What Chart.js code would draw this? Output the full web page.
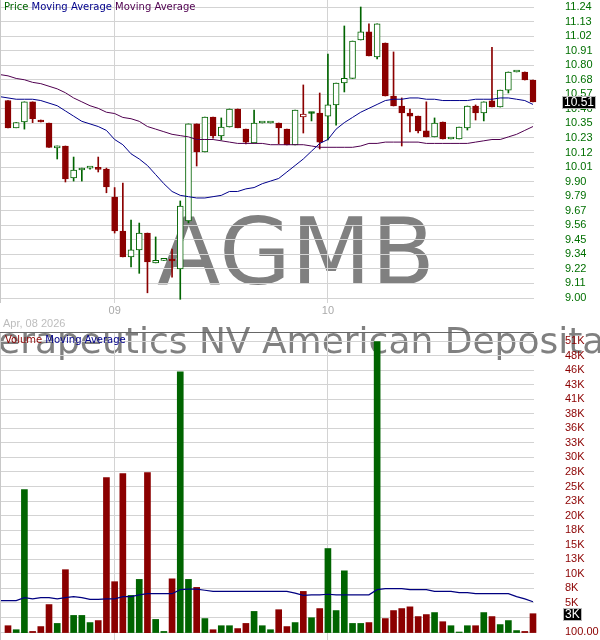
<!DOCTYPE html>
<html><head><meta charset="utf-8">
<script src="https://cdn.jsdelivr.net/npm/chart.js@4"></script>
<style>
html,body{margin:0;padding:0;background:#fff;width:600px;height:640px;overflow:hidden;position:relative}
canvas{position:absolute;left:0}
#pc{top:0}
#vc{top:300px}
</style></head><body>
<canvas id="pc" width="600" height="330"></canvas>
<canvas id="vc" width="600" height="340"></canvas>
<script>
// ---------------- data ----------------
const symbol = "AGMB";
const companyName = "Agomab Therapeutics NV American Depositary Shares";
const dateLabel = "Apr, 08 2026";
const monthLabels = ["09", "10"];
const monthStartIndex = [13, 39];

const openP  = [10.52,10.31,10.355,10.51,10.37,10.347,10.155,10.17,9.924,9.985,10.00,9.995,9.993,9.777,9.516,9.316,9.37,9.50,9.27,9.29,9.29,9.223,9.593,10.34,10.124,10.393,10.247,10.316,10.455,10.30,10.193,10.347,10.347,10.347,10.30,10.178,10.393,10.43,10.424,10.40,10.486,10.655,10.69,10.986,11.048,10.855,10.963,10.555,10.478,10.424,10.40,10.286,10.24,10.355,10.224,10.224,10.31,10.478,10.424,10.517,10.47,10.60,10.74,10.74,10.678];
const highP  = [10.52,10.35,10.51,10.51,10.37,10.347,10.17,10.17,10.085,10.00,10.008,10.085,10.00,9.85,9.885,9.60,9.577,9.50,9.47,9.29,9.377,9.747,10.34,10.34,10.393,10.393,10.386,10.455,10.455,10.30,10.447,10.347,10.347,10.347,10.30,10.447,10.64,10.43,10.578,10.878,10.655,11.094,10.978,11.24,11.11,11.11,10.963,10.894,10.54,10.455,10.40,10.51,10.386,10.355,10.224,10.316,10.478,10.486,10.51,10.93,10.60,10.74,10.74,10.74,10.678];
const lowP   = [10.31,10.31,10.30,10.35,10.355,10.16,10.07,9.893,9.90,9.90,9.992,9.97,9.81,9.50,9.316,9.24,9.19,9.04,9.27,9.29,9.16,8.99,9.578,10.016,10.124,10.23,10.216,10.316,10.31,10.186,10.193,10.347,10.347,10.186,10.178,10.178,10.27,10.363,10.147,10.216,10.33,10.586,10.69,10.986,10.863,10.84,10.555,10.478,10.17,10.278,10.27,10.24,10.24,10.224,10.224,10.224,10.293,10.37,10.363,10.47,10.47,10.578,10.74,10.678,10.51];
const closeP = [10.31,10.35,10.51,10.38,10.355,10.16,10.17,9.916,9.985,10.00,10.00,9.99,9.855,9.516,9.316,9.37,9.50,9.277,9.29,9.29,9.285,9.708,10.34,10.124,10.393,10.247,10.316,10.455,10.31,10.20,10.347,10.347,10.347,10.31,10.178,10.447,10.416,10.42,10.20,10.486,10.655,10.69,10.978,11.048,10.863,11.11,10.555,10.478,10.424,10.40,10.286,10.24,10.347,10.224,10.224,10.316,10.478,10.424,10.51,10.47,10.60,10.74,10.74,10.678,10.51];
const volume = [1200,500,25000,200,1050,4900,1600,11000,3000,3000,1750,2100,27100,8900,27800,6500,9300,28000,2300,200,9400,45600,9300,7900,2450,500,1200,1200,700,1600,3700,1200,500,4000,1050,1750,7200,2600,4200,14700,3850,10800,1600,1600,1750,50900,2450,3850,4200,4500,2800,3150,3500,1900,1200,100,1200,1200,3500,2800,1400,2100,350,200,3300];
// moving averages start one session before the first candle
const maFast = [10.55,10.54,10.53,10.53,10.53,10.52,10.50,10.48,10.44,10.40,10.36,10.34,10.32,10.29,10.22,10.18,10.11,10.07,10.02,9.95,9.88,9.82,9.79,9.78,9.77,9.77,9.78,9.79,9.82,9.82,9.84,9.85,9.88,9.90,9.92,9.97,10.02,10.07,10.13,10.19,10.22,10.30,10.35,10.39,10.43,10.46,10.49,10.52,10.53,10.53,10.54,10.54,10.53,10.53,10.52,10.52,10.52,10.52,10.53,10.53,10.53,10.54,10.54,10.53,10.52,10.49];
const maSlow = [10.72,10.71,10.69,10.68,10.66,10.65,10.63,10.61,10.58,10.54,10.51,10.48,10.46,10.43,10.42,10.39,10.38,10.36,10.32,10.30,10.28,10.26,10.25,10.24,10.22,10.22,10.22,10.21,10.20,10.19,10.19,10.19,10.19,10.18,10.18,10.18,10.18,10.18,10.17,10.16,10.16,10.16,10.16,10.16,10.17,10.19,10.19,10.20,10.20,10.20,10.20,10.20,10.19,10.19,10.19,10.19,10.19,10.19,10.20,10.21,10.22,10.22,10.24,10.26,10.29,10.32];
const volMA = [5600,5600,5600,6100,5900,6100,6100,5900,6100,6300,6100,5800,5800,5900,5900,6300,6300,6600,6800,6800,6800,6800,7500,7600,7600,7400,7200,7200,7200,7200,7200,7200,7200,7200,7200,7200,6900,6500,6600,6600,6700,6600,6600,6600,6600,6600,7500,7700,7700,7700,7500,7500,7500,7200,7200,7200,7000,7000,6800,6800,6800,6800,6800,6300,5900,5400];
const priceTickLabels = ["9.00","9.11","9.22","9.34","9.45","9.56","9.67","9.79","9.90","10.01","10.12","10.23","10.35","10.46","10.57","10.68","10.80","10.91","11.02","11.13","11.24"];
const volumeTickLabels = ["100.00","3K","5K","8K","10K","13K","15K","18K","20K","23K","25K","28K","30K","33K","36K","38K","41K","43K","46K","48K","51K"];

// ---------------- styling / geometry ----------------
const GREEN = '#006400', RED = '#8b0000', NAVY = '#00008b', PURPLE = '#500050';
const GRID = '#d3d3d3';
const PLOT_RIGHT = 534, AXIS_W = 600 - PLOT_RIGHT;
const FIRST_X = 8, STEP_X = 8.203;
const X_MIN = -FIRST_X / STEP_X, X_MAX = (PLOT_RIGHT - FIRST_X) / STEP_X;

const parseVol = s => s.endsWith('K') ? parseFloat(s) * 1000 : parseFloat(s);
const P_LO = parseFloat(priceTickLabels[0]), P_HI = parseFloat(priceTickLabels[priceTickLabels.length - 1]);
const priceTickValues = priceTickLabels.map((_, k) => P_LO + k * (P_HI - P_LO) / (priceTickLabels.length - 1));
const V_LO = parseVol(volumeTickLabels[0]), V_HI = parseVol(volumeTickLabels[volumeTickLabels.length - 1]);
const volTickValues = volumeTickLabels.map((_, k) => V_LO + k * (V_HI - V_LO) / (volumeTickLabels.length - 1));

// price panel: area 0..303, top tick at 7px, bottom tick 5px above bottom
const pU = (P_HI - P_LO) / 291;
const P_MAX = P_HI + 7 * pU, P_MIN = P_LO - 5 * pU;
// volume panel: area 32..340 (canvas), top tick 9px below top, bottom tick 8px above bottom
const vU = (V_HI - V_LO) / 291;
const V_MAX = V_HI + 9 * vU, V_MIN = V_LO - 8 * vU;

const candleColor = closeP.map((c, i) => (i === 0 ? c >= openP[i] : c >= closeP[i - 1]) ? GREEN : RED);
const bodyFill = closeP.map((c, i) => c < openP[i] ? candleColor[i] : '#ffffff');

const tickFont = { family: 'Liberation Sans', size: 11 };

function xAxis(showLabels, h) {
  return {
    type: 'linear', min: X_MIN, max: X_MAX, offset: false,
    grid: { color: GRID, drawTicks: false, lineWidth: 1, offset: false },
    border: { display: false },
    afterBuildTicks: s => { s.ticks = monthStartIndex.map(v => ({ value: v })); },
    afterFit: s => { s.height = h; s.paddingLeft = 0; s.paddingRight = 0; },
    ticks: { display: showLabels, autoSkip: false, maxRotation: 0, padding: 1, color: '#aaaaaa', font: tickFont,
      callback: (v, i) => monthLabels[i] }
  };
}
function yAxis(min, max, values, labels, color) {
  return {
    position: 'right', min, max,
    grid: { color: GRID, drawTicks: false, lineWidth: 1 },
    border: { display: false },
    afterBuildTicks: s => { s.ticks = values.map(v => ({ value: v })); },
    afterFit: s => { s.width = AXIS_W; s.paddingTop = 0; s.paddingBottom = 0; },
    ticks: { autoSkip: false, padding: 31, color, font: tickFont, callback: (v, i) => labels[i] }
  };
}

function drawLegend(ctx, x, y, parts) {
  ctx.save();
  ctx.font = '10px "DejaVu Sans"';
  ctx.textBaseline = 'middle'; ctx.textAlign = 'left';
  for (const [t, c] of parts) { ctx.fillStyle = c; ctx.fillText(t, x, y); x += ctx.measureText(t).width; }
  ctx.restore();
}
function valueBox(ctx, x, y, text) {
  ctx.save();
  ctx.font = '12px "Liberation Sans"';
  const w = Math.round(ctx.measureText(text).width) + 4;
  ctx.fillStyle = '#000'; ctx.fillRect(x, Math.round(y) - 6, w, 13);
  ctx.strokeStyle = '#b8b8b8'; ctx.lineWidth = 1; ctx.strokeRect(x + 0.5, Math.round(y) - 5.5, w - 1, 12);
  ctx.fillStyle = '#fff'; ctx.textBaseline = 'middle'; ctx.textAlign = 'left';
  ctx.fillText(text, x + 2, Math.round(y) + 1);
  ctx.restore();
}

const pricePlugin = {
  id: 'pricePlugin',
  beforeDraw(chart) {
    const ctx = chart.ctx;
    ctx.save();
    ctx.font = '93px "DejaVu Sans"';
    ctx.fillStyle = '#808080'; ctx.textAlign = 'center'; ctx.textBaseline = 'alphabetic';
    ctx.fillText(symbol, 296, 284);
    ctx.restore();
  },
  afterDraw(chart) {
    const ctx = chart.ctx, a = chart.chartArea;
    ctx.save();
    ctx.strokeStyle = '#c8c8c8'; ctx.lineWidth = 1;
    ctx.beginPath(); ctx.moveTo(a.left + 0.5, a.top); ctx.lineTo(a.left + 0.5, a.bottom); ctx.stroke();
    ctx.font = '11px "Liberation Sans"'; ctx.fillStyle = '#bdbdbd'; ctx.textBaseline = 'middle';
    ctx.fillText(dateLabel, 3, 324);
    ctx.restore();
    drawLegend(ctx, 4, 7, [['Price', GREEN], [' Moving Average', NAVY], [' Moving Average', PURPLE]]);
    const last = closeP[closeP.length - 1];
    valueBox(ctx, a.right + 28, chart.scales.y.getPixelForValue(last), last.toFixed(2));
  }
};

const volPlugin = {
  id: 'volPlugin',
  beforeDraw(chart) {
    const ctx = chart.ctx;
    ctx.save();
    ctx.font = '36px "DejaVu Sans"';
    ctx.fillStyle = '#808080'; ctx.textAlign = 'left'; ctx.textBaseline = 'alphabetic';
    const k = companyName.indexOf('erapeutics');
    const off = ctx.measureText(companyName.slice(0, k)).width;
    ctx.fillText(companyName, -2 - off, 53);
    ctx.restore();
  },
  afterDraw(chart) {
    const ctx = chart.ctx, a = chart.chartArea;
    ctx.save();
    ctx.strokeStyle = '#c8c8c8'; ctx.lineWidth = 1;
    ctx.beginPath(); ctx.moveTo(a.left + 0.5, a.top); ctx.lineTo(a.left + 0.5, a.bottom); ctx.stroke();
    ctx.strokeStyle = '#666666';
    ctx.beginPath(); ctx.moveTo(a.left, a.top + 0.5); ctx.lineTo(a.right, a.top + 0.5); ctx.stroke();
    ctx.restore();
    drawLegend(ctx, 5, 40, [['Volume', RED], [' Moving Average', NAVY]]);
    const last = volume[volume.length - 1];
    valueBox(ctx, a.right + 29, chart.scales.y.getPixelForValue(last), Math.round(last / 1000) + 'K');
  }
};

const common = {
  responsive: false, animation: false, events: [],
  plugins: { legend: { display: false }, tooltip: { enabled: false } },
};

new Chart(document.getElementById('pc'), {
  type: 'bar',
  data: {
    datasets: [
      { type: 'line', data: maFast.map((v, k) => ({ x: k - 1, y: v })), borderColor: NAVY, borderWidth: 1, pointRadius: 0, tension: 0, order: 0 },
      { type: 'line', data: maSlow.map((v, k) => ({ x: k - 1, y: v })), borderColor: PURPLE, borderWidth: 1, pointRadius: 0, tension: 0, order: 1 },
      { type: 'bar', data: openP.map((o, i) => ({ x: i, y: [Math.min(o, closeP[i]), Math.max(o, closeP[i])] })),
        backgroundColor: bodyFill, borderColor: candleColor, borderWidth: 1, borderSkipped: false,
        barThickness: 6, minBarLength: 2, grouped: false, order: 2, clip: false },
      { type: 'bar', data: lowP.map((l, i) => ({ x: i, y: [l, highP[i]] })),
        backgroundColor: candleColor, borderWidth: 0, barThickness: 1, grouped: false, order: 3, clip: false }
    ]
  },
  options: Object.assign({}, common, {
    layout: { padding: 0 },
    scales: { x: xAxis(true, 27), y: yAxis(P_MIN, P_MAX, priceTickValues, priceTickLabels, '#006f00') }
  }),
  plugins: [pricePlugin]
});

new Chart(document.getElementById('vc'), {
  type: 'bar',
  data: {
    datasets: [
      { type: 'line', data: volMA.map((v, k) => ({ x: k - 1, y: v })), borderColor: '#000080', borderWidth: 1.2, pointRadius: 0, tension: 0, order: 0 },
      { type: 'bar', data: volume.map((v, i) => ({ x: i, y: v })), backgroundColor: candleColor, borderWidth: 0,
        barThickness: 6, grouped: false, order: 1, clip: false }
    ]
  },
  options: Object.assign({}, common, {
    layout: { padding: { top: 32, left: 0, right: 0, bottom: 0 } },
    scales: { x: xAxis(false, 0), y: yAxis(V_MIN, V_MAX, volTickValues, volumeTickLabels, '#8b0000') }
  }),
  plugins: [volPlugin]
});
</script>
</body></html>
